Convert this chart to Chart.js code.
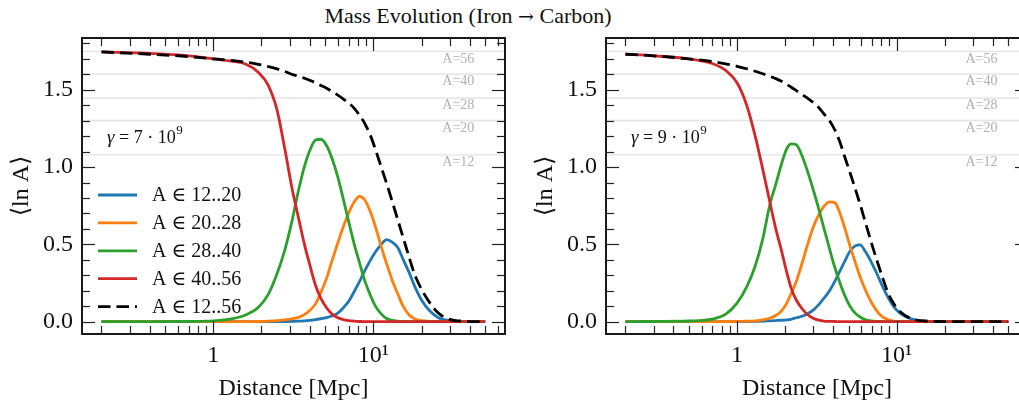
<!DOCTYPE html>
<html>
<head>
<meta charset="utf-8">
<script src="https://cdn.jsdelivr.net/npm/chart.js@4/dist/chart.umd.min.js"></script>
<style>
html, body { margin: 0; padding: 0; background: #fff; overflow: hidden; width: 1019px; height: 408px; }
#title { position: absolute; left: 0; top: 4px; width: 936px; text-align: center; font: 22px "Liberation Serif", serif; line-height: 24px; color: #111; }
#title .arr { font-family: "DejaVu Serif", serif; font-size: 19px; }
canvas { position: absolute; top: 0; }
</style>
</head>
<body>
<div id="title">Mass Evolution (Iron <span class="arr">→</span> Carbon)</div>
<canvas id="left" width="510" height="408" style="left:0"></canvas>
<canvas id="right" width="530" height="408" style="left:510px"></canvas>
<script>
// distances [Mpc] and <lnA> per mass group
const DIST_L = [0.2, 0.4, 0.7, 1.0, 1.3, 1.6, 1.9, 2.2, 2.5, 2.8, 3.1, 3.4, 3.7, 4.0, 4.35, 4.7, 5.1, 5.5, 6.0, 6.5,
  7.0, 7.6, 8.2, 8.8, 9.5, 10.3, 11.2, 12.1, 13.1, 14.2, 15.4, 16.7, 18.2, 20, 22.5, 25.5, 30, 37, 50];
const BLUE_L = [0, 0, 0, 0, 0, 0, 0, 0, 0, 0.001, 0.002, 0.003, 0.005, 0.008, 0.013, 0.019, 0.026, 0.036, 0.055, 0.09,
  0.13, 0.195, 0.26, 0.325, 0.39, 0.45, 0.5, 0.53, 0.515, 0.48, 0.4, 0.32, 0.225, 0.14, 0.07, 0.025, 0.006, 0.001, 0];
const ORANGE_L = [0, 0, 0, 0, 0, 0, 0.001, 0.003, 0.006, 0.011, 0.018, 0.028, 0.045, 0.072, 0.115, 0.19, 0.28, 0.39, 0.51, 0.615,
  0.7, 0.775, 0.81, 0.79, 0.72, 0.615, 0.485, 0.375, 0.27, 0.18, 0.097, 0.045, 0.017, 0.006, 0.002, 0, 0, 0, 0];
const GREEN_L = [0, 0, 0.001, 0.005, 0.018, 0.045, 0.09, 0.175, 0.31, 0.465, 0.65, 0.845, 1.0, 1.105, 1.175, 1.18, 1.14, 1.06, 0.935, 0.79,
  0.65, 0.5, 0.38, 0.27, 0.18, 0.1, 0.05, 0.02, 0.008, 0.003, 0.001, 0, 0, 0, 0, 0, 0, 0, 0];
const RED_L = [1.745, 1.735, 1.72, 1.7, 1.685, 1.665, 1.615, 1.53, 1.37, 1.115, 0.865, 0.675, 0.505, 0.37, 0.235, 0.15, 0.09, 0.05, 0.025, 0.013,
  0.007, 0.003, 0.001, 0, 0, 0, 0, 0, 0, 0, 0, 0, 0, 0, 0, 0, 0, 0, 0];
const TOTAL_L = [1.745, 1.73, 1.715, 1.7, 1.69, 1.678, 1.665, 1.65, 1.635, 1.618, 1.6, 1.588, 1.575, 1.562, 1.545, 1.528, 1.51, 1.49, 1.465, 1.44,
  1.415, 1.38, 1.335, 1.285, 1.215, 1.115, 1.0, 0.895, 0.78, 0.66, 0.54, 0.42, 0.3, 0.21, 0.123, 0.055, 0.015, 0.003, 0];

const DIST_R = [0.2, 0.3, 0.5, 0.7, 0.85, 1.0, 1.15, 1.3, 1.45, 1.6, 1.75, 1.9, 2.05, 2.2, 2.35, 2.55, 2.75, 3.0, 3.25, 3.5,
  3.8, 4.1, 4.4, 4.75, 5.1, 5.5, 5.9, 6.4, 6.9, 7.5, 8.1, 8.8, 9.6, 10.5, 11.5, 13, 15, 18, 23, 30, 50];
const BLUE_R = [0, 0, 0, 0, 0, 0, 0.001, 0.002, 0.003, 0.005, 0.007, 0.009, 0.012, 0.017, 0.025, 0.035, 0.05, 0.075, 0.11, 0.15,
  0.2, 0.26, 0.325, 0.395, 0.455, 0.49, 0.497, 0.45, 0.39, 0.313, 0.235, 0.16, 0.095, 0.055, 0.03, 0.012, 0.003, 0.001, 0, 0, 0];
const ORANGE_R = [0, 0, 0, 0, 0.001, 0.002, 0.003, 0.005, 0.011, 0.022, 0.04, 0.07, 0.12, 0.19, 0.26, 0.375, 0.49, 0.61, 0.69, 0.745,
  0.775, 0.77, 0.705, 0.6, 0.49, 0.385, 0.29, 0.2, 0.13, 0.07, 0.033, 0.013, 0.004, 0.001, 0, 0, 0, 0, 0, 0, 0];
const GREEN_R = [0, 0.001, 0.004, 0.016, 0.048, 0.12, 0.225, 0.36, 0.535, 0.75, 0.89, 1.02, 1.12, 1.15, 1.145, 1.075, 0.98, 0.855, 0.73, 0.605,
  0.47, 0.35, 0.255, 0.165, 0.1, 0.055, 0.03, 0.012, 0.005, 0.002, 0.001, 0, 0, 0, 0, 0, 0, 0, 0, 0, 0];
const RED_R = [1.73, 1.72, 1.7, 1.67, 1.625, 1.545, 1.4, 1.2, 0.985, 0.78, 0.6, 0.458, 0.318, 0.207, 0.14, 0.085, 0.048, 0.022, 0.01, 0.004,
  0.002, 0.001, 0, 0, 0, 0, 0, 0, 0, 0, 0, 0, 0, 0, 0, 0, 0, 0, 0, 0, 0];
const TOTAL_R = [1.73, 1.72, 1.7, 1.683, 1.668, 1.652, 1.636, 1.62, 1.604, 1.588, 1.572, 1.555, 1.535, 1.515, 1.495, 1.47, 1.447, 1.418, 1.385, 1.345,
  1.3, 1.24, 1.165, 1.06, 0.965, 0.86, 0.76, 0.635, 0.52, 0.4, 0.295, 0.19, 0.115, 0.065, 0.035, 0.013, 0.004, 0.001, 0, 0, 0];

const LABELS = ['A ∈ 12..20', 'A ∈ 20..28', 'A ∈ 28..40', 'A ∈ 40..56', 'A ∈ 12..56'];
const COLORS = ['#1f77b4', '#ff7f0e', '#2ca02c', '#d62728', '#000000'];
const REF_A = [56, 40, 28, 20, 12];
const Y_TICKS = [0, 0.5, 1.0, 1.5];
const X_TICKS = [1, 10];

const FONT = '"Liberation Serif", "DejaVu Serif", serif';
const DASH = [12.5, 6];

function xMinor() {
  var out = [];
  [0.1, 1, 10].forEach(function (dec) { for (var k = 2; k <= 9; k++) out.push(dec * k); });
  return out;
}
function yMinor() {
  var out = [];
  for (var i = 0; i <= 18; i++) if (i % 5) out.push(i / 10);
  return out;
}

const decor = {
  id: 'decor',
  beforeDatasetsDraw: function (chart) {
    var ctx = chart.ctx, a = chart.chartArea, x = chart.scales.x, y = chart.scales.y;
    ctx.save();
    ctx.strokeStyle = '#e4e4e4';
    ctx.lineWidth = 1.4;
    ctx.font = '14px ' + FONT;
    ctx.fillStyle = '#b0b0b0';
    ctx.textBaseline = 'middle';
    ctx.textAlign = 'left';
    REF_A.forEach(function (A) {
      var py = y.getPixelForValue(Math.log10(A));
      ctx.beginPath(); ctx.moveTo(a.left, py); ctx.lineTo(a.right, py); ctx.stroke();
      ctx.fillText('A=' + A, x.getPixelForValue(27), py + 7.5);
    });
    ctx.restore();
  },
  afterDatasetsDraw: function (chart, args, opts) {
    var ctx = chart.ctx, a = chart.chartArea, x = chart.scales.x, y = chart.scales.y;
    ctx.save();
    ctx.strokeStyle = '#222';
    ctx.lineWidth = 1.2;
    function seg(x1, y1, x2, y2) { ctx.beginPath(); ctx.moveTo(x1, y1); ctx.lineTo(x2, y2); ctx.stroke(); }
    function xt(v, len) {
      if (v < x.min || v > x.max) return;
      var px = Math.round(x.getPixelForValue(v)) + 0.5;
      seg(px, a.bottom, px, a.bottom - len); seg(px, a.top, px, a.top + len);
    }
    function yt(v, len) {
      var py = Math.round(y.getPixelForValue(v)) + 0.5;
      seg(a.left, py, a.left + len, py); seg(a.right, py, a.right - len, py);
    }
    X_TICKS.forEach(function (v) { xt(v, 13); });
    xMinor().forEach(function (v) { xt(v, 8); });
    Y_TICKS.forEach(function (v) { yt(v, 13); });
    yMinor().forEach(function (v) { yt(v, 8); });

    ctx.lineWidth = 2;
    ctx.strokeStyle = '#1a1a1a';
    ctx.strokeRect(a.left, a.top, a.right - a.left, a.bottom - a.top);

    // gamma annotation
    var gx = a.left + 25, gy = a.top + 100;
    ctx.fillStyle = '#111';
    ctx.textBaseline = 'middle';
    ctx.textAlign = 'left';
    ctx.font = 'italic 19px ' + FONT;
    ctx.fillText('γ', gx, gy);
    var w = ctx.measureText('γ').width;
    ctx.font = '18px ' + FONT;
    var s = ' = ' + opts.gamma + ' · 10';
    ctx.fillText(s, gx + w, gy);
    w += ctx.measureText(s).width;
    ctx.font = '13px ' + FONT;
    ctx.fillText('9', gx + w + 0.5, gy - 7);

    if (opts.legend) {
      ctx.font = '20px ' + FONT;
      LABELS.forEach(function (lab, i) {
        var ly = a.top + 157 + i * 27.9;
        ctx.strokeStyle = COLORS[i];
        ctx.lineWidth = 2.8;
        ctx.setLineDash(i === 4 ? DASH : []);
        seg(a.left + 16, ly, a.left + 55, ly);
        ctx.setLineDash([]);
        ctx.fillText(lab, a.left + 70, ly + 1);
      });
    }
    ctx.restore();
  }
};

function makeChart(id, dist, series, yWidth, yTitlePad, rightPad, gamma, legend) {
  var datasets = series.map(function (vals, i) {
    return {
      label: LABELS[i],
      data: dist.map(function (d, k) { return { x: d, y: vals[k] }; }),
      borderColor: COLORS[i],
      borderWidth: 2.8,
      borderDash: i === 4 ? DASH : [],
      pointRadius: 0,
      cubicInterpolationMode: 'monotone',
      order: 4 - i
    };
  });
  return new Chart(document.getElementById(id), {
    type: 'line',
    data: { datasets: datasets },
    options: {
      responsive: false,
      animation: false,
      devicePixelRatio: 1,
      layout: { padding: { top: 38, right: rightPad, left: 0, bottom: 0 } },
      plugins: {
        legend: { display: false },
        tooltip: { enabled: false },
        decor: { gamma: gamma, legend: legend }
      },
      scales: {
        x: {
          type: 'logarithmic',
          min: 0.1511,
          max: 66.5,
          grid: { display: false, drawTicks: false },
          border: { display: false },
          afterBuildTicks: function (s) { s.ticks = X_TICKS.map(function (v) { return { value: v }; }); },
          afterFit: function (s) { s.height = 74; },
          ticks: {
            autoSkip: false, maxRotation: 0, padding: 7, color: '#111',
            font: { family: FONT, size: 24 },
            callback: function (v) { return v === 1 ? '1' : '10¹'; }
          },
          title: { display: true, text: 'Distance [Mpc]', color: '#111', font: { family: FONT, size: 24 }, padding: { top: 0, bottom: 5 } }
        },
        y: {
          type: 'linear',
          min: -0.08,
          max: 1.835,
          grid: { display: false, drawTicks: false },
          border: { display: false },
          afterBuildTicks: function (s) { s.ticks = Y_TICKS.map(function (v) { return { value: v }; }); },
          afterFit: function (s) { s.width = yWidth; },
          ticks: {
            padding: 9, color: '#111',
            font: { family: FONT, size: 24 },
            callback: function (v) { return Number(v).toFixed(1); }
          },
          title: { display: true, text: '⟨ln A⟩', color: '#111', font: { family: FONT, size: 24 }, padding: { top: yTitlePad, bottom: 0 } }
        }
      }
    },
    plugins: [decor]
  });
}

makeChart('left', DIST_L, [BLUE_L, ORANGE_L, GREEN_L, RED_L, TOTAL_L], 82, 7, 5, '7', true);
makeChart('right', DIST_R, [BLUE_R, ORANGE_R, GREEN_R, RED_R, TOTAL_R], 96, 21, 12, '9', false);
</script>
</body>
</html>
